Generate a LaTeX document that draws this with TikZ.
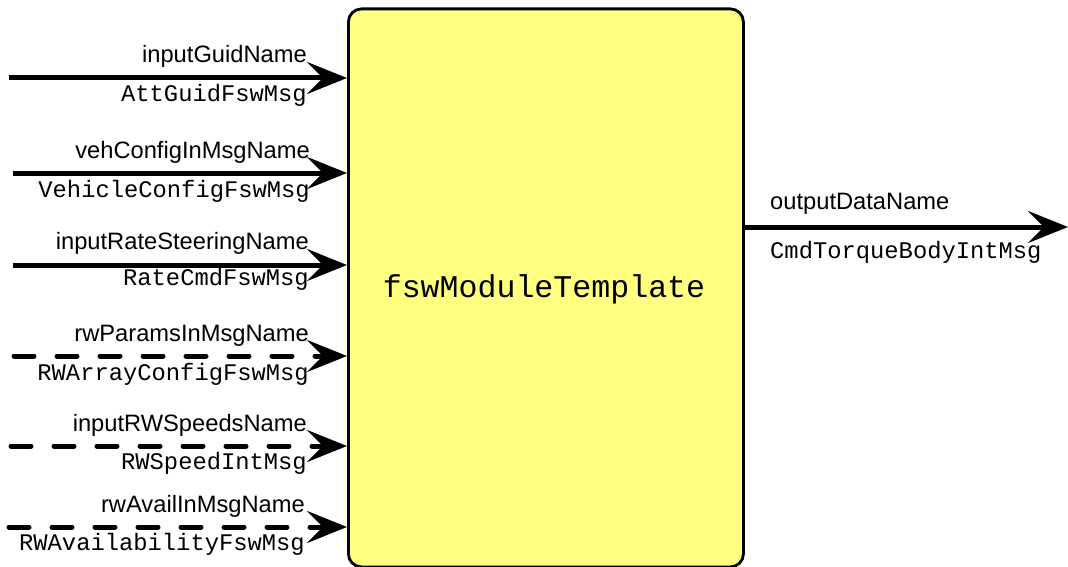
\documentclass[tikz,border=0pt]{standalone}
\usepackage{fontspec}
\setmainfont{Liberation Sans}
\setmonofont{Liberation Mono}
\usetikzlibrary{arrows.meta}
\definecolor{boxyellow}{RGB}{255,255,128}
\begin{document}
\begin{tikzpicture}[x=1pt,y=-1pt,
  conn/.style={line width=5pt, -{Stealth[length=40pt,width=32pt,inset=16pt]}},
  dashconn/.style={conn, line cap=round, dash pattern=on 20pt off 23pt},
  nm/.style={font=\fontsize{23.7}{28}\selectfont, inner sep=0pt, anchor=base east},
  msg/.style={font=\ttfamily\fontsize{23.8}{28}\selectfont, inner sep=0pt, anchor=base east},
  onm/.style={font=\fontsize{23.7}{28}\selectfont, inner sep=0pt, anchor=base west},
  omsg/.style={font=\ttfamily\fontsize{23.8}{28}\selectfont, inner sep=0pt, anchor=base west},
  modbox/.style={draw, line width=2.8pt, fill=boxyellow, rounded corners=13pt, inner sep=0pt}
]
\useasboundingbox (0,0) rectangle (1068,567);
\node[modbox, minimum width=395pt, minimum height=558pt, anchor=north west] (box) at (347,7.5) {};
\node[font=\ttfamily\fontsize{31.6}{36}\selectfont, inner sep=0pt, anchor=base] (title) at (544,297) {fswModuleTemplate};

% inputs
\coordinate (s1) at (9,78);
\coordinate (s2) at (13,173);
\coordinate (s3) at (13,265);
\coordinate (s4) at (14,356);
\coordinate (s5) at (11,446);
\coordinate (s6) at (9,527);

\draw[conn] (s1) -- (s1 -| box.west);
\draw[conn] (s2) -- (s2 -| box.west);
\draw[conn] (s3) -- (s3 -| box.west);
\draw[dashconn] (s4) -- (s4 -| box.west);
\draw[dashconn] (s5) -- (s5 -| box.west);
\draw[dashconn] (s6) -- (s6 -| box.west);

\node[nm] (n1) at (307,63) {inputGuidName};
\node[msg] (m1) at (307,102) {AttGuidFswMsg};
\node[nm] (n2) at (310,158) {vehConfigInMsgName};
\node[msg] (m2) at (310,197) {VehicleConfigFswMsg};
\node[nm] (n3) at (309,249) {inputRateSteeringName};
\node[msg] (m3) at (309,285) {RateCmdFswMsg};
\node[nm] (n4) at (309,341) {rwParamsInMsgName};
\node[msg] (m4) at (309,380) {RWArrayConfigFswMsg};
\node[nm] (n5) at (307,431) {inputRWSpeedsName};
\node[msg] (m5) at (307,469) {RWSpeedIntMsg};
\node[nm] (n6) at (305,512) {rwAvailInMsgName};
\node[msg] (m6) at (305,550) {RWAvailabilityFswMsg};

% output
\coordinate (e1) at (1068,227);
\draw[conn] (box.east |- e1) -- (e1);
\node[onm] (n7) at (770,209) {outputDataName};
\node[omsg] (m7) at (770,258) {CmdTorqueBodyIntMsg};
\end{tikzpicture}
\end{document}
